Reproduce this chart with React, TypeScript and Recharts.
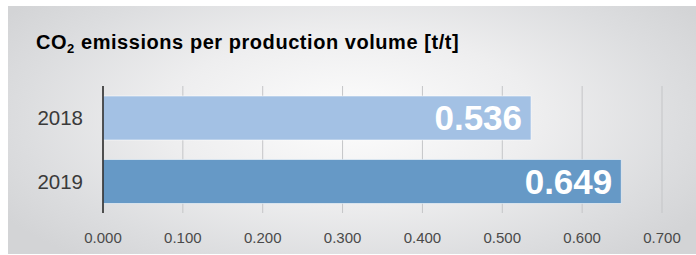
import React from 'react';
import { BarChart, Bar, XAxis, YAxis, CartesianGrid, Cell, LabelList } from 'recharts';

const years = ['2018', '2019'];
const values = [0.536, 0.649];
const barColors = ['#a3c1e4', '#6699c6'];
const xTicks = [0, 0.1, 0.2, 0.3, 0.4, 0.5, 0.6, 0.7];

const data = years.map((y, i) => ({ year: y, value: values[i] }));

const FONT = '"Liberation Sans", Arial, Helvetica, sans-serif';

export default function App() {
  return (
    <div
      style={{
        position: 'absolute',
        left: 8,
        top: 6,
        width: 688,
        height: 248,
        background:
          'radial-gradient(ellipse 60% 75% at 50% 45%, #fdfdfd 0%, #eeeeef 45%, #dcdddf 80%, #d3d4d6 100%)',
        fontFamily: FONT,
      }}
    >
      <div
        style={{
          position: 'absolute',
          left: 28,
          top: 27,
          fontSize: 20,
          lineHeight: '18px',
          fontWeight: 'bold',
          letterSpacing: 0.55,
          color: '#000',
          whiteSpace: 'nowrap',
        }}
      >
        CO<span style={{ fontSize: 13, position: 'relative', top: 4 }}>2</span> emissions per production volume [t/t]
      </div>
      <BarChart
        width={688}
        height={248}
        data={data}
        layout="vertical"
        margin={{ top: 80, right: 34, bottom: 11, left: 0 }}
        barCategoryGap={19}
        style={{ position: 'absolute', left: 0, top: 0 }}
      >
        <CartesianGrid horizontal={false} vertical={true} stroke="#c4c5c7" strokeWidth={1} />
        <XAxis
          type="number"
          domain={[0, 0.7]}
          ticks={xTicks}
          tickFormatter={(v: number) => v.toFixed(3)}
          axisLine={false}
          tickLine={false}
          tickSize={0}
          tickMargin={19}
          height={30}
          tick={{ fill: '#4a4a4a', fontSize: 15, fontFamily: FONT }}
          interval={0}
        />
        <YAxis
          type="category"
          dataKey="year"
          width={95}
          axisLine={{ stroke: '#222', strokeWidth: 1.5 }}
          tickLine={false}
          tickSize={0}
          tickMargin={20}
          tick={{ fill: '#3a3a3a', fontSize: 20.5, fontFamily: FONT }}
        />
        <Bar dataKey="value" barSize={44} isAnimationActive={false} stroke="rgba(255,255,255,0.55)" strokeWidth={1}>
          {data.map((d, i) => (
            <Cell key={d.year} fill={barColors[i]} />
          ))}
          <LabelList
            dataKey="value"
            position="insideRight"
            offset={9}
            formatter={(v: number) => v.toFixed(3)}
            style={{ fill: '#fff', fontSize: 35, fontWeight: 'bold', fontFamily: FONT }}
          />
        </Bar>
      </BarChart>
    </div>
  );
}
